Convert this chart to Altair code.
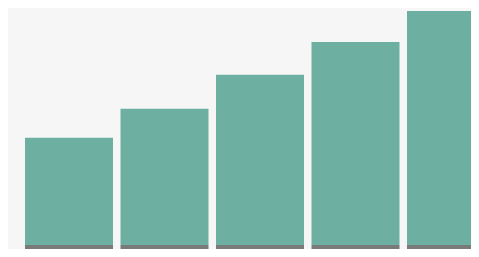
import altair as alt
import pandas as pd

categories = ["A", "B", "C", "D", "E"]
values = [111, 141, 176, 210, 242]

df = pd.DataFrame({
    "cat": categories,
    "idx": list(range(len(categories))),
    "value": values,
    "base": [0] * len(categories),
    "shadow": [-4.14] * len(categories),
})

x = alt.X("idx:Q", axis=None,
          scale=alt.Scale(domain=[-0.6387, 4.2094], nice=False, zero=False, padding=0))
yscale = alt.Scale(domain=[-4.14, 245.1], nice=False, zero=False, padding=0)

bars = alt.Chart(df).mark_bar(color="#6db0a2", size=88, clip=True).encode(
    x=x,
    y=alt.Y("value:Q", axis=None, scale=yscale),
    y2="base:Q",
)
shadow = alt.Chart(df).mark_bar(color="#7a7a7a", size=88, clip=True).encode(
    x=x,
    y=alt.Y("base:Q", axis=None, scale=yscale),
    y2="shadow:Q",
)

chart = alt.layer(bars, shadow).properties(
    width=463, height=241, padding=0, autosize=alt.AutoSizeParams(type="none"),
    background="#f6f6f6",
).configure_view(stroke=None)

chart.save("out.html", embed_options={"renderer": "svg", "actions": False})
